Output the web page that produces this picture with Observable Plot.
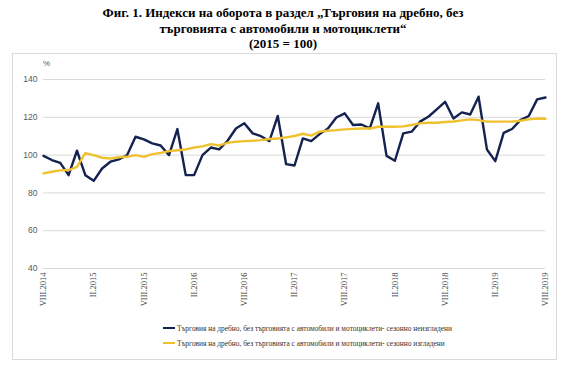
<!DOCTYPE html>
<html>
<head>
<meta charset="utf-8">
<script src="https://cdn.jsdelivr.net/npm/d3@7"></script>
<script src="https://cdn.jsdelivr.net/npm/@observablehq/plot@0.6"></script>
<style>
  html, body { margin: 0; padding: 0; background: #fff; }
  body { width: 576px; height: 365px; position: relative; overflow: hidden; }
  #title { position: absolute; left: 0; top: 5px; width: 566px; text-align: center;
           font-family: "Liberation Serif", "Times New Roman", serif; font-weight: bold;
           font-size: 13px; line-height: 15.5px; color: #000; }
  #frame { position: absolute; left: 12px; top: 53px; width: 545px; height: 307px;
           border: 1px solid #d9d9d9; box-sizing: border-box; }
  #chart { position: absolute; left: 0; top: 52px; }
  #pct { position: absolute; left: 43px; top: 59px; font-family: "Liberation Sans", Arial, sans-serif;
         font-size: 8px; color: #595959; }
  .leg { position: absolute; left: 163px; height: 12px; display: flex; align-items: center;
         font-family: "Liberation Serif", "Times New Roman", serif; font-size: 7.4px; color: #333; white-space: nowrap; }
  .leg .sw { width: 12px; height: 2.5px; margin-right: 2px; }
</style>
</head>
<body>
<div id="title">Фиг. 1. Индекси на оборота в раздел „Търговия на дребно, без<br>търговията с автомобили и мотоциклети“<br>(2015 = 100)</div>
<div id="frame"></div>
<div id="chart"></div>
<div id="pct">%</div>
<div class="leg" style="top:322px"><div class="sw" style="background:#14224f"></div><span id="l1"></span></div>
<div class="leg" style="top:337px"><div class="sw" style="background:#f0c12e"></div><span id="l2"></span></div>
<script>
// Tick labels (every 6 months, VIII.2014 .. VIII.2019)
const tickLabels = ["VIII.2014","II.2015","VIII.2015","II.2016","VIII.2016","II.2017","VIII.2017","II.2018","VIII.2018","II.2019","VIII.2019"];
const yTicks = [40, 60, 80, 100, 120, 140];
const seriesNames = [
  "Търговия на дребно, без търговията с автомобили и мотоциклети- сезонно неизгладени",
  "Търговия на дребно, без търговията с автомобили и мотоциклети- сезонно изгладени"
];
// Monthly values VIII.2014 .. VIII.2019 (61 months)
const unadjusted = [
  99.6, 97.4, 95.9, 89.4, 102.3, 89.4, 86.4, 92.9, 96.5, 97.7,
  100.0, 109.7, 108.3, 106.2, 105.1, 100.0, 113.8, 89.4, 89.4, 100.0,
  104.0, 103.0, 107.6, 114.1, 116.8, 111.5, 110.0, 107.4, 120.7, 95.2,
  94.5, 108.8, 107.4, 111.1, 114.1, 119.9, 122.1, 115.9, 116.2, 114.1,
  127.4, 99.6, 97.0, 111.5, 112.4, 117.7, 120.3, 124.2, 128.2, 119.4,
  122.6, 121.5, 130.9, 103.0, 96.8, 111.8, 113.8, 118.5, 120.7, 129.5,
  130.5
];
const adjusted = [
  90.3, 91.2, 91.9, 92.1, 93.8, 101.0, 100.0, 98.6, 98.2, 98.9,
  99.1, 100.0, 99.1, 100.5, 101.2, 102.1, 102.6, 103.0, 104.0, 104.6,
  105.8, 105.1, 106.5, 107.1, 107.4, 107.6, 107.9, 108.5, 108.8, 109.4,
  110.1, 111.3, 110.3, 112.4, 112.9, 113.2, 113.6, 113.9, 114.1, 114.1,
  115.0, 115.0, 115.0, 115.2, 115.9, 116.8, 117.1, 117.1, 117.5, 117.8,
  118.4, 118.9, 118.5, 117.7, 117.7, 117.7, 117.7, 118.2, 118.9, 119.4,
  119.2
];
const navy = "#14224f", gold = "#f0c12e";

const rowsU = unadjusted.map((v, i) => ({i, v}));
const rowsA = adjusted.map((v, i) => ({i, v}));
const tickPos = tickLabels.map((_, k) => k * 6);

document.getElementById("l1").textContent = seriesNames[0];
document.getElementById("l2").textContent = seriesNames[1];

const chart = Plot.plot({
  width: 576,
  height: 265,
  marginLeft: 43,
  marginRight: 31,
  marginTop: 27,
  marginBottom: 49,
  x: {domain: [0, 60], axis: null},
  y: {domain: [40, 140], axis: null},
  marks: [
    Plot.gridY(yTicks, {stroke: "#d9d9d9", strokeOpacity: 1, strokeWidth: 1}),
    Plot.axisY(yTicks, {tickSize: 0, tickPadding: 6, fontSize: 8.5, fill: "#595959",
      fontFamily: "Liberation Sans, Arial, sans-serif", label: null}),
    Plot.text(tickPos, {x: d => d, y: 40, text: (d, k) => tickLabels[k], rotate: -90,
      textAnchor: "end", dy: 4, fontSize: 8.5, fill: "#404040",
      fontFamily: "Liberation Serif, Times New Roman, serif", lineAnchor: "middle"}),
    Plot.line(rowsU, {x: "i", y: "v", stroke: navy, strokeWidth: 2.4, strokeLinejoin: "round"}),
    Plot.line(rowsA, {x: "i", y: "v", stroke: gold, strokeWidth: 2.4, strokeLinejoin: "round"})
  ]
});
chart.style.background = "transparent";
document.getElementById("chart").appendChild(chart);
</script>
</body>
</html>
